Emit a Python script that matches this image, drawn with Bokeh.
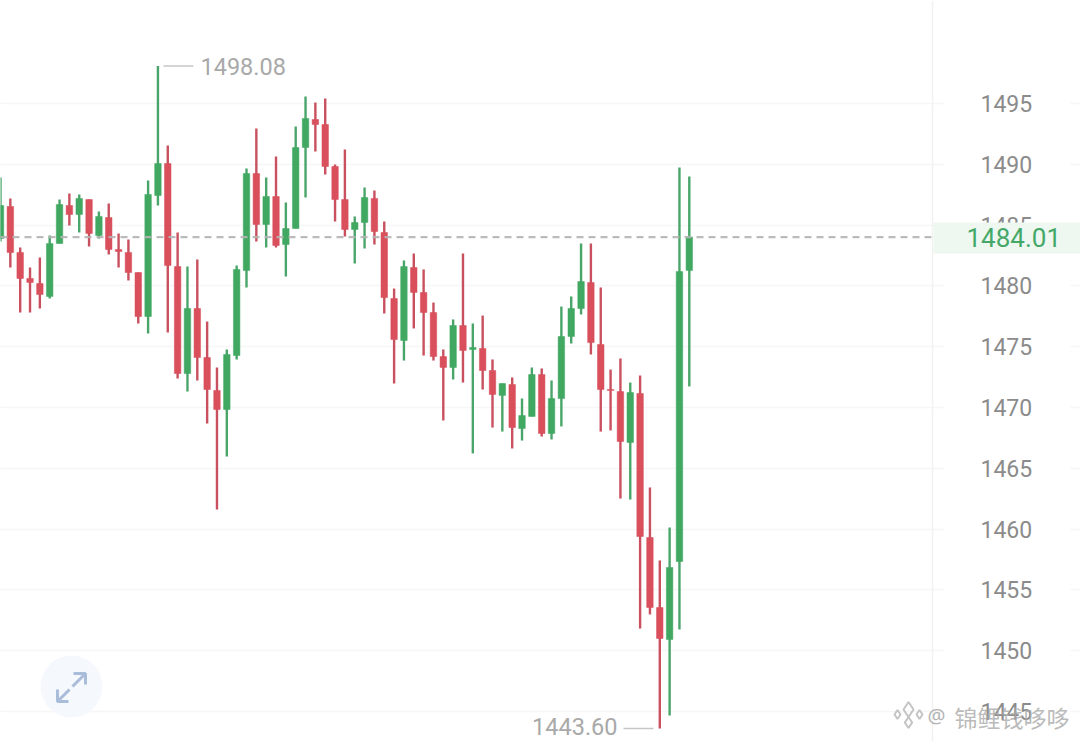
from bokeh.plotting import figure
from bokeh.models import ColumnDataSource, FixedTicker, LinearAxis, Range1d
from bokeh.core.properties import value
from bokeh.embed import file_html
from bokeh.resources import INLINE

opens = [1483.90,1486.53,1482.75,1480.61,1480.20,1479.13,1483.49,1486.61,1485.87,1487.10,
         1484.14,1485.62,1482.99,1482.75,1481.10,1477.48,1487.43,1490.06,1481.59,1472.79,
         1478.14,1474.11,1471.40,1469.83,1474.27,1481.27,1489.24,1485.05,1487.35,1483.40,
         1484.72,1491.38,1493.68,1493.27,1489.82,1487.10,1484.64,1485.21,1487.19,1484.39,
         1478.96,1475.51,1481.51,1479.46,1477.81,1474.19,1473.29,1476.74,1474.77,1474.85,
         1473.04,1470.99,1471.89,1468.27,1469.26,1472.71,1467.86,1470.74,1475.84,1478.14,
         1480.28,1475.18,1471.48,1471.31,1467.12,1471.15,1459.31,1453.55,1450.92,1457.33,
         1481.27]
highs = [1488.91,1487.19,1483.16,1481.51,1482.33,1484.14,1487.10,1487.60,1487.52,1487.10,
         1486.12,1486.78,1484.31,1483.81,1481.10,1488.67,1498.08,1491.55,1484.39,1481.59,
         1482.17,1477.07,1473.29,1474.77,1481.68,1489.65,1492.94,1488.91,1490.64,1486.86,
         1493.11,1495.57,1495.08,1495.41,1489.98,1491.22,1485.71,1488.09,1487.84,1485.29,
         1479.78,1482.09,1482.66,1481.35,1478.63,1474.77,1477.24,1482.66,1476.91,1477.56,
         1473.95,1471.97,1472.47,1470.74,1473.29,1473.21,1472.22,1478.30,1479.13,1483.49,
         1483.49,1479.87,1473.12,1474.03,1472.05,1472.63,1463.42,1457.42,1460.13,1489.74,
         1489.00]
lows = [1483.65,1481.51,1477.81,1477.81,1478.14,1478.96,1483.49,1484.97,1484.39,1483.24,
        1483.90,1482.58,1481.51,1480.44,1476.91,1476.08,1486.61,1476.17,1472.38,1471.31,
        1472.22,1468.68,1461.61,1465.97,1473.95,1479.87,1483.65,1483.16,1483.16,1480.77,
        1484.72,1487.27,1491.05,1489.16,1485.29,1484.06,1481.84,1483.07,1483.40,1477.73,
        1471.97,1473.86,1476.50,1474.27,1473.86,1468.93,1472.30,1472.05,1466.22,1471.48,
        1468.35,1468.02,1466.63,1467.28,1469.26,1467.61,1467.37,1468.44,1475.26,1477.65,
        1474.36,1468.02,1468.11,1462.51,1462.43,1451.82,1452.98,1443.60,1444.67,1451.74,
        1471.73]
closes = [1486.61,1482.75,1480.61,1480.28,1479.29,1483.49,1486.69,1485.87,1487.19,1484.31,
          1485.71,1482.99,1482.83,1481.10,1477.48,1487.52,1490.06,1481.68,1472.79,1478.14,
          1474.11,1471.48,1469.83,1474.36,1481.35,1489.24,1485.05,1487.35,1483.32,1484.72,
          1491.38,1493.77,1493.27,1489.82,1487.10,1484.64,1485.21,1487.27,1484.47,1479.04,
          1475.59,1481.59,1479.46,1477.81,1474.19,1473.29,1476.74,1474.69,1474.93,1473.04,
          1471.07,1471.97,1468.35,1469.34,1472.71,1467.86,1470.74,1475.84,1478.14,1480.36,
          1475.34,1471.48,1471.40,1467.20,1471.23,1459.39,1453.55,1451.00,1456.84,1481.18,
          1484.01]
y_ticks = [1445,1450,1455,1460,1465,1470,1475,1480,1485,1490,1495]
last_price = 1484.01
max_price = 1498.08
min_price = 1443.60
last_label = "1484.01"
max_label = "1498.08"
min_label = "1443.60"
watermark = "锦鲤钱哆哆"

W, H = 1080, 741
STEP = 9.84
x0, x1 = 0, W / STEP
y1 = 1503.47
y0 = 1503.47 - 0.08224 * H

def X(px):
    return px / STEP

def Y(py):
    return 1503.47 - 0.08224 * py

RED_BODY, GREEN_BODY = "#d94f5c", "#41a862"
RED_WICK, GREEN_WICK = "#c8505f", "#4aa56a"
FONT = "Roboto"

p = figure(width=W, height=H, output_backend="svg", toolbar_location=None,
           x_range=Range1d(x0, x1), y_range=Range1d(y0, y1),
           x_axis_location=None, y_axis_location=None, min_border=0,
           background_fill_color="white", border_fill_color="white")
p.outline_line_color = None
p.xgrid.visible = False
p.ygrid.ticker = FixedTicker(ticks=y_ticks)
p.ygrid.grid_line_color = "#f6f6f6"
p.ygrid.grid_line_width = 1.5

# gridlines stop around the price column
p.quad(left=[X(943)], right=[X(1070)], bottom=[y0], top=[y1], fill_color="white", line_color=None)

axis = LinearAxis(ticker=FixedTicker(ticks=y_ticks), fixed_location=X(932))
axis.axis_line_color = "#f1f1f1"
axis.axis_line_width = 1.5
axis.major_tick_line_color = None
axis.minor_tick_line_color = None
axis.major_label_standoff = 42
axis.major_label_text_font = FONT
axis.major_label_text_font_size = "23px"
axis.major_label_text_color = "#8b8b8b"
p.add_layout(axis, "right")

xs = list(range(len(opens)))
up = [c >= o for o, c in zip(opens, closes)]
src = ColumnDataSource(dict(
    x=xs, o=opens, h=highs, l=lows, c=closes,
    top=[max(a, b) for a, b in zip(opens, closes)],
    bot=[min(a, b) for a, b in zip(opens, closes)],
    body=[GREEN_BODY if u else RED_BODY for u in up],
    wick=[GREEN_WICK if u else RED_WICK for u in up],
))
p.segment("x", "l", "x", "h", source=src, line_color="wick", line_width=2.4)
p.vbar("x", top="top", bottom="bot", width=0.66, source=src,
       fill_color="body", line_color="body", line_width=0.5)

# last price line
p.segment([x0], [last_price], [X(932)], [last_price], line_color="#b4b4b4",
          line_width=2.2, line_dash="7 5", line_alpha=0.9)

# price flag on top of the axis
p.quad(left=[X(933)], right=[x1], bottom=[Y(253)], top=[Y(222)], fill_color="#eef8f1",
       line_color=None, level="overlay")
p.text([X(966)], [last_price], text=[last_label], text_font=value(FONT), text_font_size="26px",
       text_color="#45a869", text_align="left", text_baseline="middle", level="overlay")

# extreme labels
p.segment([X(163)], [max_price], [X(193)], [max_price], line_color="#c6c6c6", line_width=1.5)
p.text([X(200)], [max_price], text=[max_label], text_font=value(FONT), text_font_size="23.5px",
       text_color="#a9a9a9", text_align="left", text_baseline="middle")
p.segment([X(623)], [min_price], [X(653)], [min_price], line_color="#c6c6c6", line_width=1.5)
p.text([X(617)], [min_price], text=[min_label], text_font=value(FONT), text_font_size="23.5px",
       text_color="#a9a9a9", text_align="right", text_baseline="middle", y_offset=-2)

# expand button
p.scatter([X(71)], [Y(686)], size=62, marker="circle", fill_color="#f5f8fd", line_color=None)
p.multi_line(
    xs=[[X(73), X(85), X(85)], [X(72), X(84)], [X(57), X(57), X(68)], [X(57), X(69)]],
    ys=[[Y(673), Y(673), Y(684)], [Y(686), Y(674)], [Y(689), Y(701), Y(701)], [Y(701), Y(689)]],
    line_color="#a9bddb", line_width=3)

# watermark
p.scatter([X(908), X(897), X(919), X(908)], [Y(709), Y(714), Y(714), Y(722)],
          size=[15, 9, 9, 11], marker="diamond", fill_color=None,
          line_color="#c4c4c4", line_width=2, level="overlay")
p.text([X(927)], [Y(715)], text=["@"], text_font=value("Noto Sans"), text_font_size="20px",
       text_color="#b4b4b4", text_align="left", text_baseline="middle", level="overlay")
p.text([X(954)], [Y(716)], text=[watermark], text_font=value("Noto Sans CJK SC"), text_font_size="23px",
       text_color="#a8a8a8", text_alpha=0.8, text_align="left", text_baseline="middle", level="overlay")

open("out.html", "w").write(file_html(p, INLINE))
